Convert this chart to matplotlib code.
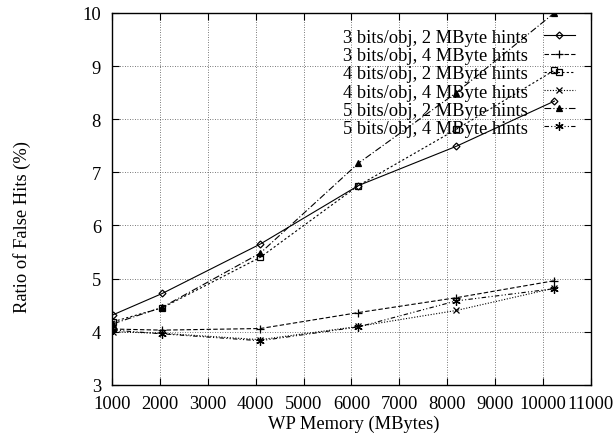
import numpy as np
import matplotlib
matplotlib.use("Agg")
import matplotlib.pyplot as plt

# データ (WPメモリ [MB] と誤ヒット率 [%])
memory = [1024, 2048, 4096, 6144, 8192, 10240]
labels = ["3 bits/obj, 2 MByte hints", "3 bits/obj, 4 MByte hints",
          "4 bits/obj, 2 MByte hints", "4 bits/obj, 4 MByte hints",
          "5 bits/obj, 2 MByte hints", "5 bits/obj, 4 MByte hints"]
b3_2mb = [4.32, 4.72, 5.65, 6.75, 7.49, 8.34]
b3_4mb = [4.05, 4.03, 4.06, 4.36, 4.64, 4.96]
b4_2mb = [4.19, 4.45, 5.40, 6.75, 7.81, 8.92]
b4_4mb = [4.00, 3.97, 3.85, 4.10, 4.40, 4.82]
b5_2mb = [4.15, 4.46, 5.48, 7.17, 8.50, 10.0]
b5_4mb = [4.03, 3.96, 3.83, 4.09, 4.58, 4.81]
xticks = [1000, 2000, 3000, 4000, 5000, 6000, 7000, 8000, 9000, 10000, 11000]
yticks = [3, 4, 5, 6, 7, 8, 9, 10]

plt.rcParams['font.family'] = ['Liberation Serif', 'DejaVu Serif']
plt.rcParams['font.size'] = 13.3

fig = plt.figure(figsize=(6.16, 4.35), dpi=100)
ax = fig.add_axes([0.182, 0.113, 0.777, 0.855])

series = [b3_2mb, b3_4mb, b4_2mb, b4_4mb, b5_2mb, b5_4mb]
# (線種, マーカー, 塗り, サイズ)
styles = [("-", "D", "none", 3.5),
          ((0, (4, 2)), "+", "k", 6),
          ((0, (2, 2)), "s", "none", 5),
          ((0, (1, 1.5)), "x", "k", 5),
          ((0, (6, 2, 1, 2)), "^", "k", 4),
          ((0, (4, 2, 1, 2, 1, 2)), (6, 2, 0), "k", 6)]
for y, lab, (ls, mk, fc, ms) in zip(series, labels, styles):
    ax.plot(memory, y, color="k", linestyle=ls, linewidth=0.8, marker=mk,
            markerfacecolor=fc, markeredgecolor="k", markersize=ms,
            markeredgewidth=0.9, label=lab)

ax.set_xlim(1000, 11000)
ax.set_ylim(3, 10)
ax.set_xticks(xticks)
ax.set_yticks(yticks)
ax.grid(True, color="0.3", linestyle=(0, (1, 2)), linewidth=0.6)
ax.tick_params(axis="both", direction="in", top=True, right=True, length=5, width=0.8)
ax.tick_params(axis="x", pad=7)
ax.tick_params(axis="y", pad=8)
for s in ax.spines.values():
    s.set_linewidth(1.0)

ax.set_xlabel("WP Memory (MBytes)")
ax.set_ylabel("Ratio of False Hits (%)")
ax.xaxis.set_label_coords(0.505, -0.081)
ax.yaxis.set_label_coords(-0.169, 0.426)

leg = ax.legend(loc="upper right", bbox_to_anchor=(0.967, 0.957), frameon=False,
                markerfirst=False, handlelength=1.7, handletextpad=0.85,
                labelspacing=0.065, borderpad=0, borderaxespad=0)

fig.savefig("out.png", dpi=100)
